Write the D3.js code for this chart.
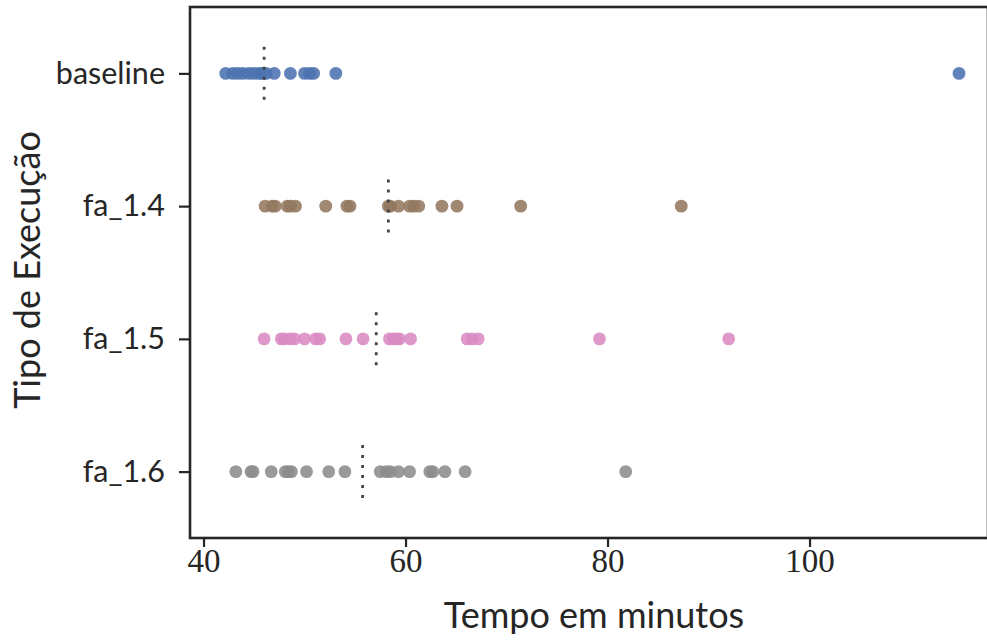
<!DOCTYPE html>
<html>
<head>
<meta charset="utf-8">
<script src="https://cdn.jsdelivr.net/npm/d3@7"></script>
<style>
  html, body { margin: 0; padding: 0; background: #fff; }
  svg { display: block; }
</style>
</head>
<body>
<svg id="chart" width="987" height="641"></svg>
<script>
// ---- data ----
const categories = ["baseline", "fa_1.4", "fa_1.5", "fa_1.6"];
const colors = ["#4C72B0", "#937860", "#DA8BC3", "#8C8C8C"];
const baselineVals = [42.2, 42.9, 43.4, 43.9, 44.5, 45.0, 45.5, 45.8, 46.2, 47.0, 48.6, 50.0, 50.5, 50.9, 53.1, 114.8];
const fa14Vals = [46.1, 46.8, 47.1, 48.3, 48.6, 49.1, 52.1, 54.2, 54.5, 58.3, 58.5, 59.3, 60.4, 60.8, 61.3, 63.6, 65.1, 71.4, 87.3];
const fa15Vals = [46.0, 47.7, 48.0, 48.6, 49.0, 50.0, 51.1, 51.5, 54.1, 55.8, 58.4, 58.8, 59.1, 59.4, 60.5, 66.1, 66.6, 67.2, 79.2, 92.0];
const fa16Vals = [43.2, 44.7, 44.9, 46.7, 48.1, 48.4, 48.7, 50.2, 52.4, 54.0, 57.5, 58.1, 58.5, 59.3, 60.4, 62.4, 62.7, 63.9, 65.9, 81.8];
const seriesVals = [baselineVals, fa14Vals, fa15Vals, fa16Vals];
const xTicks = [40, 60, 80, 100];
const xLabel = "Tempo em minutos";
const yLabel = "Tipo de Execução";

// ---- layout ----
const svg = d3.select("#chart");
const mLeft = 190, mRight = 988, mTop = 7, mBottom = 538;
const axisColor = "#262626";

const x = d3.scaleLinear().domain([38.66, 117.67]).range([mLeft, mRight]);
const y = d3.scalePoint().domain(categories).range([mTop, mBottom]).padding(0.5);
const band = y.step();

// spines
svg.append("rect")
  .attr("x", mLeft).attr("y", mTop)
  .attr("width", mRight - mLeft).attr("height", mBottom - mTop)
  .attr("fill", "none").attr("stroke", axisColor).attr("stroke-width", 2.6);

// x axis
const xAxis = svg.append("g")
  .attr("transform", `translate(0,${mBottom})`)
  .call(d3.axisBottom(x).tickValues(xTicks).tickSize(9).tickPadding(2).tickFormat(d3.format("d")));
xAxis.select(".domain").remove();
xAxis.selectAll(".tick line").attr("stroke", axisColor).attr("stroke-width", 2.2);
xAxis.selectAll(".tick text")
  .attr("fill", axisColor)
  .style("font-family", "'Liberation Serif', 'DejaVu Serif', serif")
  .style("font-size", "33px");

// y axis
const yAxis = svg.append("g")
  .attr("transform", `translate(${mLeft},0)`)
  .call(d3.axisLeft(y).tickSize(11).tickPadding(14));
yAxis.select(".domain").remove();
yAxis.selectAll(".tick line").attr("stroke", axisColor).attr("stroke-width", 2.2);
yAxis.selectAll(".tick text")
  .attr("fill", axisColor)
  .style("font-family", "Lato, 'Open Sans', sans-serif")
  .style("font-size", "30.5px");

// axis titles
svg.append("text")
  .attr("x", 594).attr("y", 628)
  .attr("text-anchor", "middle")
  .attr("fill", axisColor)
  .style("font-family", "Lato, 'Open Sans', sans-serif")
  .style("font-size", "36px")
  .text(xLabel);

svg.append("text")
  .attr("transform", `translate(40,${(130 + 410) / 2}) rotate(-90)`)
  .attr("text-anchor", "middle")
  .attr("fill", axisColor)
  .style("font-family", "Lato, 'Open Sans', sans-serif")
  .style("font-size", "36px")
  .text(yLabel);

// points
categories.forEach((cat, i) => {
  svg.append("g").selectAll("circle")
    .data(seriesVals[i])
    .join("circle")
    .attr("cx", d => x(d))
    .attr("cy", y(cat))
    .attr("r", 6.4)
    .attr("fill", colors[i])
    .attr("fill-opacity", 0.88);
});

// median dotted lines
categories.forEach((cat, i) => {
  const m = d3.median(seriesVals[i]);
  svg.append("line")
    .attr("x1", x(m)).attr("x2", x(m))
    .attr("y1", y(cat) - band * 0.2).attr("y2", y(cat) + band * 0.2)
    .attr("stroke", "#444")
    .attr("stroke-width", 2.8)
    .attr("stroke-dasharray", "3,7");
});
</script>
</body>
</html>
